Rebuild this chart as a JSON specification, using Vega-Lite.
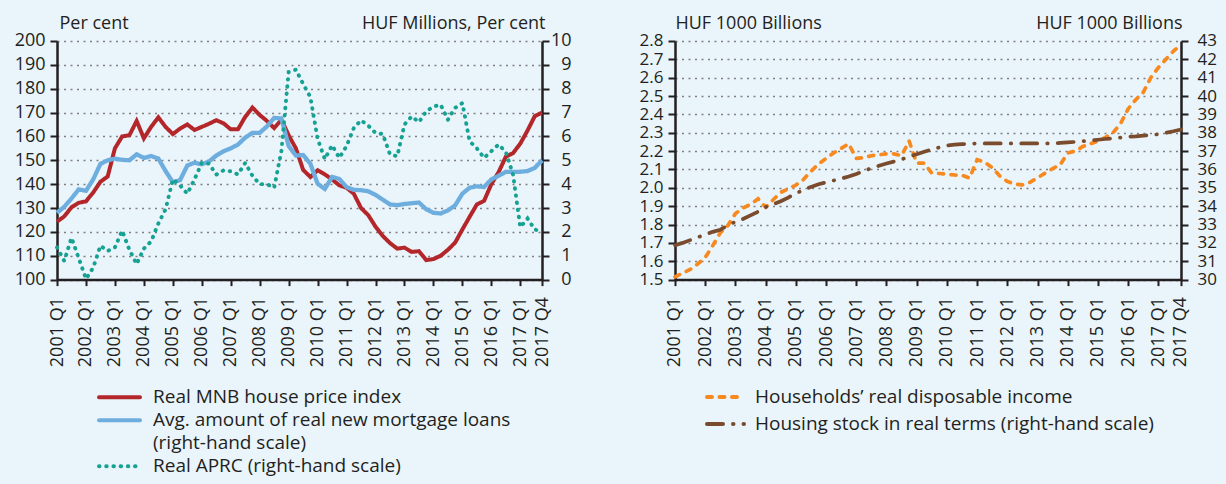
{
  "$schema": "https://vega.github.io/schema/vega-lite/v6.json",
  "background": "#e9f4fb",
  "padding": {"left": 14, "top": 15, "right": 15, "bottom": 20},
  "bounds": "flush",
  "spacing": 133,
  "config": {
    "font": "Open Sans",
    "view": {"stroke": null},
    "axis": {
      "labelFont": "Open Sans", "labelFontSize": 18, "labelColor": "#231f20",
      "titleFont": "Open Sans", "titleFontSize": 18, "titleFontWeight": "normal", "titleColor": "#231f20",
      "domainColor": "#231f20", "domainWidth": 2.5, "tickColor": "#231f20", "tickWidth": 2, "tickSize": 7,
      "gridColor": "#808080", "gridDash": [2, 4.5], "gridWidth": 1.5
    },
    "legend": {
      "labelFont": "Open Sans", "labelFontSize": 19, "labelColor": "#231f20",
      "symbolType": "stroke", "symbolStrokeWidth": 4, "padding": 0, "rowPadding": 0, "labelLimit": 600
    }
  },
  "data": {"values": [
    {"q":"2001 Q1","hpi":124.3,"loans":2.8,"aprc":1.35,"inc":1.515,"stock":31.87},
    {"q":"2001 Q2","hpi":126.5,"loans":3.05,"aprc":0.78,"inc":1.535,"stock":32.0},
    {"q":"2001 Q3","hpi":130.3,"loans":3.4,"aprc":1.75,"inc":1.555,"stock":32.15},
    {"q":"2001 Q4","hpi":132.2,"loans":3.78,"aprc":0.9,"inc":1.585,"stock":32.3},
    {"q":"2002 Q1","hpi":132.8,"loans":3.72,"aprc":0.03,"inc":1.62,"stock":32.45},
    {"q":"2002 Q2","hpi":136.5,"loans":4.2,"aprc":0.5,"inc":1.685,"stock":32.6},
    {"q":"2002 Q3","hpi":141,"loans":4.85,"aprc":1.42,"inc":1.755,"stock":32.72},
    {"q":"2002 Q4","hpi":143.2,"loans":5.0,"aprc":1.2,"inc":1.795,"stock":32.95},
    {"q":"2003 Q1","hpi":155,"loans":5.07,"aprc":1.35,"inc":1.86,"stock":33.15},
    {"q":"2003 Q2","hpi":160,"loans":5.02,"aprc":2.05,"inc":1.89,"stock":33.3},
    {"q":"2003 Q3","hpi":160.5,"loans":5.0,"aprc":1.25,"inc":1.91,"stock":33.5},
    {"q":"2003 Q4","hpi":166.5,"loans":5.25,"aprc":0.65,"inc":1.94,"stock":33.7},
    {"q":"2004 Q1","hpi":159.2,"loans":5.1,"aprc":1.3,"inc":1.895,"stock":33.95},
    {"q":"2004 Q2","hpi":164,"loans":5.18,"aprc":1.6,"inc":1.935,"stock":34.1},
    {"q":"2004 Q3","hpi":168,"loans":5.07,"aprc":2.35,"inc":1.975,"stock":34.27},
    {"q":"2004 Q4","hpi":164,"loans":4.55,"aprc":2.95,"inc":1.995,"stock":34.47},
    {"q":"2005 Q1","hpi":161,"loans":4.08,"aprc":4.2,"inc":2.015,"stock":34.7},
    {"q":"2005 Q2","hpi":163.3,"loans":4.17,"aprc":3.95,"inc":2.045,"stock":34.88},
    {"q":"2005 Q3","hpi":165,"loans":4.78,"aprc":3.6,"inc":2.09,"stock":35.05},
    {"q":"2005 Q4","hpi":162.7,"loans":4.9,"aprc":4.2,"inc":2.13,"stock":35.2},
    {"q":"2006 Q1","hpi":164,"loans":4.83,"aprc":4.9,"inc":2.16,"stock":35.3},
    {"q":"2006 Q2","hpi":165.3,"loans":4.95,"aprc":4.86,"inc":2.19,"stock":35.4},
    {"q":"2006 Q3","hpi":166.8,"loans":5.2,"aprc":4.4,"inc":2.215,"stock":35.5},
    {"q":"2006 Q4","hpi":165.5,"loans":5.38,"aprc":4.58,"inc":2.24,"stock":35.62},
    {"q":"2007 Q1","hpi":163,"loans":5.5,"aprc":4.54,"inc":2.16,"stock":35.75},
    {"q":"2007 Q2","hpi":163,"loans":5.66,"aprc":4.41,"inc":2.165,"stock":35.92},
    {"q":"2007 Q3","hpi":168.2,"loans":5.95,"aprc":4.89,"inc":2.175,"stock":36.07},
    {"q":"2007 Q4","hpi":172.1,"loans":6.15,"aprc":4.35,"inc":2.18,"stock":36.2},
    {"q":"2008 Q1","hpi":169,"loans":6.15,"aprc":4.0,"inc":2.185,"stock":36.33},
    {"q":"2008 Q2","hpi":166.5,"loans":6.42,"aprc":4.0,"inc":2.185,"stock":36.43},
    {"q":"2008 Q3","hpi":163.5,"loans":6.78,"aprc":3.85,"inc":2.175,"stock":36.55},
    {"q":"2008 Q4","hpi":167,"loans":6.75,"aprc":5.4,"inc":2.255,"stock":36.7},
    {"q":"2009 Q1","hpi":160.5,"loans":5.6,"aprc":8.7,"inc":2.135,"stock":36.83},
    {"q":"2009 Q2","hpi":155,"loans":5.2,"aprc":8.8,"inc":2.135,"stock":36.96},
    {"q":"2009 Q3","hpi":146,"loans":5.22,"aprc":8.2,"inc":2.08,"stock":37.1},
    {"q":"2009 Q4","hpi":143,"loans":4.86,"aprc":7.65,"inc":2.078,"stock":37.2},
    {"q":"2010 Q1","hpi":145.8,"loans":4.02,"aprc":5.9,"inc":2.075,"stock":37.3},
    {"q":"2010 Q2","hpi":144.1,"loans":3.8,"aprc":5.05,"inc":2.07,"stock":37.35},
    {"q":"2010 Q3","hpi":142,"loans":4.3,"aprc":5.63,"inc":2.068,"stock":37.38},
    {"q":"2010 Q4","hpi":139.5,"loans":4.22,"aprc":5.1,"inc":2.053,"stock":37.4},
    {"q":"2011 Q1","hpi":138.5,"loans":3.88,"aprc":5.6,"inc":2.153,"stock":37.42},
    {"q":"2011 Q2","hpi":136,"loans":3.76,"aprc":6.35,"inc":2.14,"stock":37.42},
    {"q":"2011 Q3","hpi":130,"loans":3.75,"aprc":6.68,"inc":2.11,"stock":37.42},
    {"q":"2011 Q4","hpi":127,"loans":3.7,"aprc":6.45,"inc":2.065,"stock":37.42},
    {"q":"2012 Q1","hpi":122.2,"loans":3.55,"aprc":6.15,"inc":2.035,"stock":37.42},
    {"q":"2012 Q2","hpi":118.3,"loans":3.35,"aprc":6.1,"inc":2.02,"stock":37.42},
    {"q":"2012 Q3","hpi":115.3,"loans":3.15,"aprc":5.25,"inc":2.016,"stock":37.42},
    {"q":"2012 Q4","hpi":113,"loans":3.12,"aprc":5.17,"inc":2.03,"stock":37.42},
    {"q":"2013 Q1","hpi":113.4,"loans":3.17,"aprc":6.5,"inc":2.055,"stock":37.42},
    {"q":"2013 Q2","hpi":111.6,"loans":3.2,"aprc":6.84,"inc":2.08,"stock":37.42},
    {"q":"2013 Q3","hpi":111.9,"loans":3.23,"aprc":6.6,"inc":2.105,"stock":37.42},
    {"q":"2013 Q4","hpi":108.2,"loans":2.95,"aprc":7.05,"inc":2.125,"stock":37.45},
    {"q":"2014 Q1","hpi":108.6,"loans":2.8,"aprc":7.25,"inc":2.19,"stock":37.48},
    {"q":"2014 Q2","hpi":110,"loans":2.77,"aprc":7.33,"inc":2.2,"stock":37.5},
    {"q":"2014 Q3","hpi":112.5,"loans":2.9,"aprc":6.7,"inc":2.225,"stock":37.54},
    {"q":"2014 Q4","hpi":115.5,"loans":3.11,"aprc":7.2,"inc":2.24,"stock":37.58},
    {"q":"2015 Q1","hpi":121,"loans":3.6,"aprc":7.4,"inc":2.255,"stock":37.62},
    {"q":"2015 Q2","hpi":126.3,"loans":3.85,"aprc":5.8,"inc":2.275,"stock":37.66},
    {"q":"2015 Q3","hpi":131.5,"loans":3.91,"aprc":5.5,"inc":2.3,"stock":37.7},
    {"q":"2015 Q4","hpi":133,"loans":3.88,"aprc":5.1,"inc":2.35,"stock":37.74},
    {"q":"2016 Q1","hpi":140,"loans":4.2,"aprc":5.38,"inc":2.43,"stock":37.78},
    {"q":"2016 Q2","hpi":145,"loans":4.35,"aprc":5.66,"inc":2.48,"stock":37.8},
    {"q":"2016 Q3","hpi":151.5,"loans":4.52,"aprc":5.35,"inc":2.52,"stock":37.84},
    {"q":"2016 Q4","hpi":153,"loans":4.51,"aprc":4.4,"inc":2.6,"stock":37.87},
    {"q":"2017 Q1","hpi":157,"loans":4.52,"aprc":2.2,"inc":2.655,"stock":37.92},
    {"q":"2017 Q2","hpi":162.5,"loans":4.55,"aprc":2.56,"inc":2.7,"stock":38.0},
    {"q":"2017 Q3","hpi":168.5,"loans":4.68,"aprc":2.1,"inc":2.745,"stock":38.08},
    {"q":"2017 Q4","hpi":170,"loans":5.0,"aprc":2.0,"inc":2.78,"stock":38.18}
  ]},
  "resolve": {
    "scale": {"color": "independent", "strokeDash": "independent"},
    "legend": {"color": "independent", "strokeDash": "independent"}
  },
  "hconcat": [
    {
      "width": 485,
      "height": 238.6,
      "resolve": {"scale": {"y": "independent"}},
      "layer": [
        {
          "mark": {"type": "line", "strokeWidth": 4},
          "encoding": {
            "x": {"field": "q", "type": "ordinal", "scale": {"type": "point", "padding": 0},
              "axis": {"values": ["2001 Q1","2002 Q1","2003 Q1","2004 Q1","2005 Q1","2006 Q1","2007 Q1","2008 Q1","2009 Q1","2010 Q1","2011 Q1","2012 Q1","2013 Q1","2014 Q1","2015 Q1","2016 Q1","2017 Q1","2017 Q4"],
                "labelAngle": 270, "labelAlign": "right", "labelBaseline": "middle", "labelPadding": 11, "tickSize": 6, "title": null, "labelOverlap": false, "labelFlush": false, "labelBound": false, "grid": false}},
            "y": {"field": "hpi", "type": "quantitative", "scale": {"domain": [100, 200], "nice": false, "zero": false},
              "axis": {"orient": "left", "values": [100,110,120,130,140,150,160,170,180,190,200], "grid": true, "title": "Per cent", "titleAngle": 0, "titleAlign": "left", "titleBaseline": "alphabetic", "titleX": 2, "titleY": -12, "labelPadding": 5, "labelOverlap": false, "labelFlush": false}},
            "color": {"datum": "Real MNB house price index", "type": "nominal",
              "scale": {"domain": ["Real MNB house price index", "Avg. amount of real new mortgage loans", "(right-hand scale)", "Real APRC (right-hand scale)"], "range": ["#b3262a", "#6eaedf", "rgba(0,0,0,0)", "#16a292"]},
              "legend": {"orient": "none", "legendX": 40, "legendY": 345, "title": null, "symbolSize": 1681, "clipHeight": 22.7, "labelOffset": 11, "encoding": {"symbols": {"strokeCap": {"value": "round"}}}}},
            "strokeDash": {"datum": "Real MNB house price index", "type": "nominal",
              "scale": {"domain": ["Real MNB house price index", "Avg. amount of real new mortgage loans", "(right-hand scale)", "Real APRC (right-hand scale)"], "range": [[1, 0], [1, 0], [1, 0], [0.5, 6.7]]},
              "legend": {"orient": "none", "legendX": 40, "legendY": 345, "title": null, "symbolSize": 1681, "clipHeight": 22.7, "labelOffset": 11, "encoding": {"symbols": {"strokeCap": {"value": "round"}}}}}
          }
        },
        {
          "layer": [
            {
              "mark": {"type": "line", "strokeWidth": 4.3},
              "encoding": {
                "x": {"field": "q", "type": "ordinal", "scale": {"type": "point", "padding": 0},
                  "axis": {"values": ["2001 Q1","2002 Q1","2003 Q1","2004 Q1","2005 Q1","2006 Q1","2007 Q1","2008 Q1","2009 Q1","2010 Q1","2011 Q1","2012 Q1","2013 Q1","2014 Q1","2015 Q1","2016 Q1","2017 Q1","2017 Q4"],
                    "labelAngle": 270, "labelAlign": "right", "labelBaseline": "middle", "labelPadding": 11, "tickSize": 6, "title": null, "labelOverlap": false, "labelFlush": false, "labelBound": false, "grid": false}},
                "y": {"field": "loans", "type": "quantitative", "scale": {"domain": [0, 10], "nice": false},
                  "axis": {"orient": "right", "values": [0,1,2,3,4,5,6,7,8,9,10], "grid": false, "title": "HUF Millions, Per cent", "titleAngle": 0, "titleAlign": "right", "titleBaseline": "alphabetic", "titleX": 3, "titleY": -12, "labelAlign": "right", "labelPadding": 22, "labelOverlap": false, "labelFlush": false}},
                "color": {"datum": "Avg. amount of real new mortgage loans", "type": "nominal",
                  "scale": {"domain": ["Real MNB house price index", "Avg. amount of real new mortgage loans", "(right-hand scale)", "Real APRC (right-hand scale)"], "range": ["#b3262a", "#6eaedf", "rgba(0,0,0,0)", "#16a292"]}},
                "strokeDash": {"datum": "Avg. amount of real new mortgage loans", "type": "nominal",
                  "scale": {"domain": ["Real MNB house price index", "Avg. amount of real new mortgage loans", "(right-hand scale)", "Real APRC (right-hand scale)"], "range": [[1, 0], [1, 0], [1, 0], [0.5, 6.7]]}}
              }
            },
            {
              "mark": {"type": "line", "strokeWidth": 3.9, "strokeCap": "round"},
              "encoding": {
                "x": {"field": "q", "type": "ordinal", "scale": {"type": "point", "padding": 0},
                  "axis": {"values": ["2001 Q1","2002 Q1","2003 Q1","2004 Q1","2005 Q1","2006 Q1","2007 Q1","2008 Q1","2009 Q1","2010 Q1","2011 Q1","2012 Q1","2013 Q1","2014 Q1","2015 Q1","2016 Q1","2017 Q1","2017 Q4"],
                    "labelAngle": 270, "labelAlign": "right", "labelBaseline": "middle", "labelPadding": 11, "tickSize": 6, "title": null, "labelOverlap": false, "labelFlush": false, "labelBound": false, "grid": false}},
                "y": {"field": "aprc", "type": "quantitative", "scale": {"domain": [0, 10], "nice": false},
                  "axis": {"orient": "right", "values": [0,1,2,3,4,5,6,7,8,9,10], "grid": false, "title": "HUF Millions, Per cent", "titleAngle": 0, "titleAlign": "right", "titleBaseline": "alphabetic", "titleX": 3, "titleY": -12, "labelAlign": "right", "labelPadding": 22, "labelOverlap": false, "labelFlush": false}},
                "color": {"datum": "Real APRC (right-hand scale)", "type": "nominal",
                  "scale": {"domain": ["Real MNB house price index", "Avg. amount of real new mortgage loans", "(right-hand scale)", "Real APRC (right-hand scale)"], "range": ["#b3262a", "#6eaedf", "rgba(0,0,0,0)", "#16a292"]}},
                "strokeDash": {"datum": "Real APRC (right-hand scale)", "type": "nominal",
                  "scale": {"domain": ["Real MNB house price index", "Avg. amount of real new mortgage loans", "(right-hand scale)", "Real APRC (right-hand scale)"], "range": [[1, 0], [1, 0], [1, 0], [0.5, 6.7]]}}
              }
            }
          ]
        }
      ]
    },
    {
      "width": 506,
      "height": 238.6,
      "resolve": {"scale": {"y": "independent"}},
      "layer": [
        {
          "mark": {"type": "line", "strokeWidth": 3.7, "strokeCap": "round"},
          "encoding": {
            "x": {"field": "q", "type": "ordinal", "scale": {"type": "point", "padding": 0},
              "axis": {"values": ["2001 Q1","2002 Q1","2003 Q1","2004 Q1","2005 Q1","2006 Q1","2007 Q1","2008 Q1","2009 Q1","2010 Q1","2011 Q1","2012 Q1","2013 Q1","2014 Q1","2015 Q1","2016 Q1","2017 Q1","2017 Q4"],
                "labelAngle": 270, "labelAlign": "right", "labelBaseline": "middle", "labelPadding": 11, "tickSize": 6, "title": null, "labelOverlap": false, "labelFlush": false, "labelBound": false, "grid": false}},
            "y": {"field": "inc", "type": "quantitative", "scale": {"domain": [1.5, 2.8], "nice": false, "zero": false},
              "axis": {"orient": "left", "values": [1.5,1.6,1.7,1.8,1.9,2.0,2.1,2.2,2.3,2.4,2.5,2.6,2.7,2.8], "format": ".1f", "grid": true, "title": "HUF 1000 Billions", "titleAngle": 0, "titleAlign": "left", "titleBaseline": "alphabetic", "titleX": 0, "titleY": -12, "labelPadding": 5, "labelFontSize": 17, "labelOverlap": false, "labelFlush": false}},
            "color": {"datum": "Households’ real disposable income", "type": "nominal",
              "scale": {"domain": ["Households’ real disposable income", "Housing stock in real terms (right-hand scale)"], "range": ["#f7891f", "#7a4b2d"]},
              "legend": {"orient": "none", "legendX": 30, "legendY": 342.5, "title": null, "symbolSize": 1369, "clipHeight": 27, "labelOffset": 9, "encoding": {"symbols": {"strokeCap": {"value": "round"}}}}},
            "strokeDash": {"datum": "Households’ real disposable income", "type": "nominal",
              "scale": {"domain": ["Households’ real disposable income", "Housing stock in real terms (right-hand scale)"], "range": [[5, 7.5], [16, 10, 0.5, 10]]},
              "legend": {"orient": "none", "legendX": 30, "legendY": 342.5, "title": null, "symbolSize": 1369, "clipHeight": 27, "labelOffset": 9, "encoding": {"symbols": {"strokeCap": {"value": "round"}}}}}
          }
        },
        {
          "mark": {"type": "line", "strokeWidth": 3.7, "strokeCap": "round"},
          "encoding": {
            "x": {"field": "q", "type": "ordinal", "scale": {"type": "point", "padding": 0},
              "axis": {"values": ["2001 Q1","2002 Q1","2003 Q1","2004 Q1","2005 Q1","2006 Q1","2007 Q1","2008 Q1","2009 Q1","2010 Q1","2011 Q1","2012 Q1","2013 Q1","2014 Q1","2015 Q1","2016 Q1","2017 Q1","2017 Q4"],
                "labelAngle": 270, "labelAlign": "right", "labelBaseline": "middle", "labelPadding": 11, "tickSize": 6, "title": null, "labelOverlap": false, "labelFlush": false, "labelBound": false, "grid": false}},
            "y": {"field": "stock", "type": "quantitative", "scale": {"domain": [30, 43], "nice": false, "zero": false},
              "axis": {"orient": "right", "values": [30,31,32,33,34,35,36,37,38,39,40,41,42,43], "grid": false, "title": "HUF 1000 Billions", "titleAngle": 0, "titleAlign": "right", "titleBaseline": "alphabetic", "titleX": 1, "titleY": -12, "labelPadding": 9, "labelFontSize": 17, "labelOverlap": false, "labelFlush": false}},
            "color": {"datum": "Housing stock in real terms (right-hand scale)", "type": "nominal",
              "scale": {"domain": ["Households’ real disposable income", "Housing stock in real terms (right-hand scale)"], "range": ["#f7891f", "#7a4b2d"]}},
            "strokeDash": {"datum": "Housing stock in real terms (right-hand scale)", "type": "nominal",
              "scale": {"domain": ["Households’ real disposable income", "Housing stock in real terms (right-hand scale)"], "range": [[5, 7.5], [16, 10, 0.5, 10]]}}
          }
        }
      ]
    }
  ]
}
